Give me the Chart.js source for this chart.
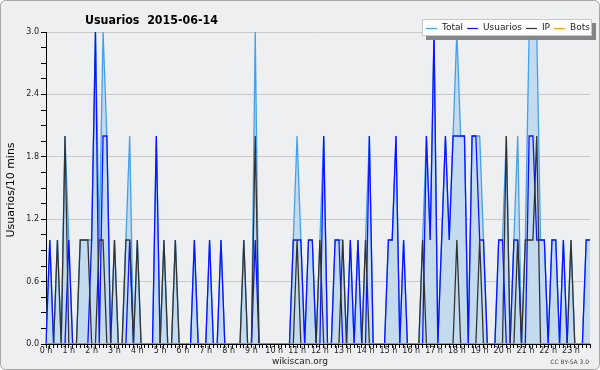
<!DOCTYPE html>
<html lang="es">
<head>
<meta charset="UTF-8">
<title>Usuarios 2015-06-14</title>
<script src="https://cdn.jsdelivr.net/npm/chart.js@4.4.0/dist/chart.umd.min.js"></script>
<style>
  body { margin: 0; background: #fff; }
  canvas { display: block; }
</style>
</head>
<body>
<canvas id="chart" width="600" height="370"></canvas>
<script>
// one value every 10 minutes, 0 h .. 23 h 50
const hourLabels = ['0 h', '1 h', '2 h', '3 h', '4 h', '5 h', '6 h', '7 h', '8 h', '9 h', '10 h', '11 h',
  '12 h', '13 h', '14 h', '15 h', '16 h', '17 h', '18 h', '19 h', '20 h', '21 h', '22 h', '23 h'];

const totalData = [
  0,1,0,1,0,2,1,0,0,1,1,1,
  1,3,1,3,2,0,1,0,0,1,2,0,
  1,0,0,0,0,2,0,1,0,0,1,0,
  0,0,0,1,0,0,0,1,0,0,1,0,
  0,0,0,0,1,0,0,3,0,0,0,0,
  0,0,0,0,0,1,2,1,0,1,1,0,
  1,2,0,0,1,1,1,0,1,0,1,0,
  1,2,0,0,0,0,1,1,2,0,1,0,
  0,0,0,1,2,1,3,0,1,2,1,2,
  3,2,2,0,2,2,2,1,0,0,0,1,
  1,2,0,1,2,0,1,3,3,3,1,1,
  0,1,1,0,1,0,1,0,0,0,1,1
];
const usuariosData = [
  0,1,0,0,0,0,1,0,0,0,0,0,
  1,3,0,2,2,0,0,0,0,0,1,0,
  0,0,0,0,0,2,0,0,0,0,0,0,
  0,0,0,1,0,0,0,1,0,0,1,0,
  0,0,0,0,0,0,0,1,0,0,0,0,
  0,0,0,0,0,1,1,1,0,1,1,0,
  0,2,0,0,1,1,0,0,1,0,1,0,
  0,2,0,0,0,0,1,1,2,0,1,0,
  0,0,0,0,2,1,3,0,1,2,1,2,
  2,2,2,0,2,2,1,1,0,0,0,1,
  1,0,0,1,1,0,0,2,2,1,1,1,
  0,1,1,0,1,0,0,0,0,0,1,1
];
const ipData = [
  0,0,0,1,0,2,0,0,0,1,1,1,
  0,0,1,1,0,0,1,0,0,1,1,0,
  1,0,0,0,0,0,0,1,0,0,1,0,
  0,0,0,0,0,0,0,0,0,0,0,0,
  0,0,0,0,1,0,0,2,0,0,0,0,
  0,0,0,0,0,0,1,0,0,0,0,0,
  1,0,0,0,0,0,1,0,0,0,0,0,
  1,0,0,0,0,0,0,0,0,0,0,0,
  0,0,0,1,0,0,0,0,0,0,0,0,
  1,0,0,0,0,0,1,0,0,0,0,0,
  0,2,0,0,1,0,1,1,1,2,0,0,
  0,0,0,0,0,0,1,0,0,0,0,0
];
const botsData = [
  0,0,0,0,0,0,0,0,0,0,0,0, 0,0,0,0,0,0,0,0,0,0,0,0,
  0,0,0,0,0,0,0,0,0,0,0,0, 0,0,0,0,0,0,0,0,0,0,0,0,
  0,0,0,0,0,0,0,0,0,0,0,0, 0,0,0,0,0,0,0,0,0,0,0,0,
  0,0,0,0,0,0,0,0,0,0,0,0, 0,0,0,0,0,0,0,0,0,0,0,0,
  0,0,0,0,0,0,0,0,0,0,0,0, 0,0,0,0,0,0,0,0,0,0,0,0,
  0,0,0,0,0,0,0,0,0,0,0,0, 0,0,0,0,0,0,0,0,0,0,0,0
];
const yMajorTicks = [0, 0.6, 1.2, 1.8, 2.4, 3.0];

// category per 10-min slot, only the full hours get a label
const slots = [];
hourLabels.forEach(function (h) {
  slots.push(h, '', '', '', '', '');
});

function isMajor(v) {
  return yMajorTicks.some(function (m) { return Math.abs(m - v) < 1e-6; });
}

// background, titles and the boxed legend
const decor = {
  id: 'decor',
  beforeDraw(chart) {
    const c = chart.ctx;
    c.save();
    c.fillStyle = '#eeeff1';
    c.beginPath();
    c.roundRect(0.5, 0.5, 599, 369, 5);
    c.fill();
    c.strokeStyle = '#a6a6a6';
    c.lineWidth = 1;
    c.stroke();
    c.restore();
  },
  afterDraw(chart) {
    const c = chart.ctx;
    c.save();
    c.fillStyle = '#000';
    c.textBaseline = 'alphabetic';
    c.font = 'bold 13px "DejaVu Sans"';
    c.fillText('Usuarios  2015-06-14', 85, 24, 133);

    c.font = '11px "DejaVu Sans"';
    c.translate(14, 190);
    c.rotate(-Math.PI / 2);
    c.textAlign = 'center';
    c.fillText('Usuarios/10 mins', 0, 0);
    c.setTransform(1, 0, 0, 1, 0, 0);

    c.font = '9px "DejaVu Sans"';
    c.fillStyle = '#222';
    c.fillText('wikiscan.org', 300, 364);
    c.font = '6px "DejaVu Sans"';
    c.textAlign = 'right';
    c.fillStyle = '#444';
    c.fillText('CC BY-SA 3.0', 589, 364);

    // legend box with shadow
    c.fillStyle = '#858585';
    c.fillRect(426, 23, 170, 17);
    c.fillStyle = '#fff';
    c.fillRect(422, 19, 170, 17);
    c.strokeStyle = '#c8c8c8';
    c.strokeRect(422.5, 19.5, 169, 16);
    c.textAlign = 'left';
    c.textBaseline = 'middle';
    c.font = '9px "DejaVu Sans"';
    let x = 426;
    chart.data.datasets.forEach(function (ds) {
      c.strokeStyle = ds.borderColor;
      c.lineWidth = 1.2;
      c.beginPath();
      c.moveTo(x, 28.5);
      c.lineTo(x + 11, 28.5);
      c.stroke();
      x += 16;
      c.fillStyle = '#222';
      c.fillText(ds.label, x, 28);
      x += c.measureText(ds.label).width + 4;
    });
    c.restore();
  }
};

new Chart(document.getElementById('chart'), {
  type: 'line',
  data: {
    labels: slots,
    datasets: [
      { label: 'Total', data: totalData, borderColor: '#42a0ec', backgroundColor: '#c4dbef',
        fill: 'origin', order: 4 },
      { label: 'Usuarios', data: usuariosData, borderColor: '#0a14ff', order: 3 },
      { label: 'IP', data: ipData, borderColor: '#333333', order: 2 },
      { label: 'Bots', data: botsData, borderColor: '#ff9a1a', order: 1 }
    ]
  },
  options: {
    responsive: false,
    animation: false,
    events: [],
    layout: { padding: { top: 32, right: 10, left: 0, bottom: 0 } },
    elements: {
      line: { borderWidth: 1.3, tension: 0 },
      point: { radius: 0 }
    },
    plugins: {
      legend: { display: false },
      title: { display: false },
      tooltip: { enabled: false }
    },
    scales: {
      x: {
        z: 1,
        afterFit(s) { s.height = 26; },
        border: { color: '#000', width: 1 },
        grid: { drawOnChartArea: false, color: '#000', tickColor: '#000', tickLength: 4 },
        ticks: {
          autoSkip: false, maxRotation: 0, minRotation: 0, padding: -2,
          color: '#222', font: { size: 8, family: 'DejaVu Sans' }
        }
      },
      y: {
        z: 1,
        min: 0,
        max: 3,
        afterFit(s) { s.width = 46; },
        afterBuildTicks(s) {
          const t = [];
          for (let i = 0; i <= 20; i++) t.push({ value: Math.round(i * 15) / 100 });
          s.ticks = t;
        },
        border: { color: '#000', width: 1 },
        grid: {
          color(ctx) { return ctx.tick && isMajor(ctx.tick.value) && ctx.tick.value > 0 ? '#c9c9c9' : 'rgba(0,0,0,0)'; },
          tickColor: '#000',
          tickLength: 5
        },
        ticks: {
          padding: 2,
          color: '#222',
          font: { size: 8, family: 'DejaVu Sans' },
          callback(v) { return isMajor(v) ? v.toFixed(1) : ''; }
        }
      }
    }
  },
  plugins: [decor]
});
</script>
</body>
</html>
